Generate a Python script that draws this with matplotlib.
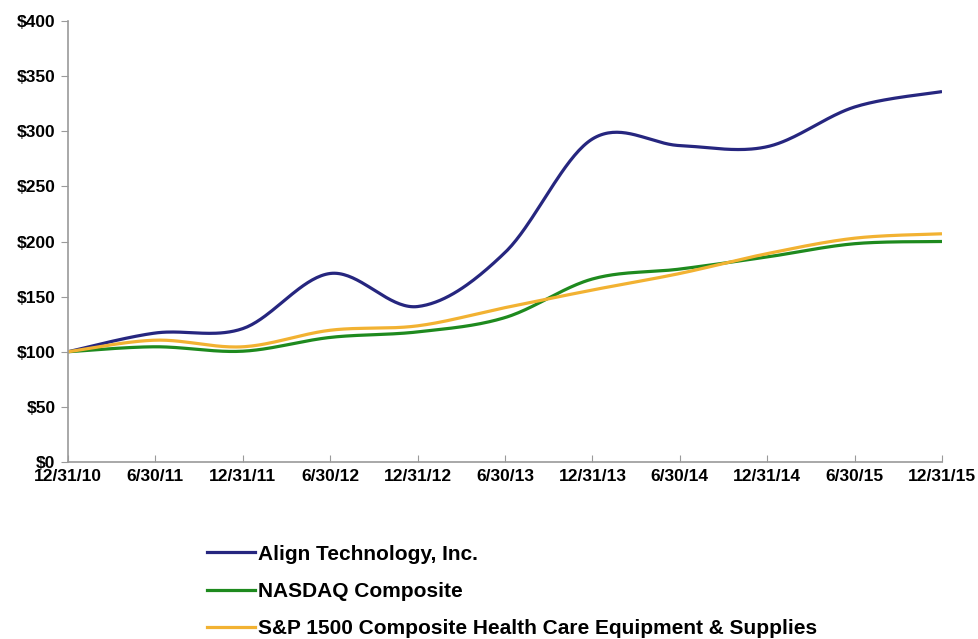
import numpy as np
import matplotlib.pyplot as plt
from matplotlib.lines import Line2D

# valori (base $100 al 12/31/10)
dates = ["12/31/10", "6/30/11", "12/31/11", "6/30/12", "12/31/12", "6/30/13",
         "12/31/13", "6/30/14", "12/31/14", "6/30/15", "12/31/15"]
align = [100, 117, 121, 171, 141, 190, 293, 287, 286, 322, 336]
nasdaq = [100, 104.5, 100.5, 113, 118, 131, 166, 175, 186, 198, 200]
sp1500_hc = [100, 110.5, 104.5, 119.5, 123.5, 140, 156, 171, 189, 203, 207]

series_names = ["Align Technology, Inc.", "NASDAQ Composite",
                "S&P 1500 Composite Health Care Equipment & Supplies"]
colors = ["#26267F", "#1E8A1E", "#F2B232"]
y_ticks = [0, 50, 100, 150, 200, 250, 300, 350, 400]


def smooth(y, n=40):
    # curva tipo "linea smussata" di Excel (Bezier con tangenti Catmull-Rom)
    y = np.asarray(y, dtype=float)
    x = np.arange(len(y), dtype=float)
    pts = np.column_stack([x, y])
    out = []
    t = np.linspace(0, 1, n)[:, None]
    for i in range(len(pts) - 1):
        p0 = pts[max(i - 1, 0)]
        p1 = pts[i]
        p2 = pts[i + 1]
        p3 = pts[min(i + 2, len(pts) - 1)]
        c1 = p1 + (p2 - p0) / 6
        c2 = p2 - (p3 - p1) / 6
        seg = ((1 - t) ** 3) * p1 + 3 * ((1 - t) ** 2) * t * c1 \
            + 3 * (1 - t) * t ** 2 * c2 + t ** 3 * p2
        out.append(seg if i == 0 else seg[1:])
    out = np.vstack(out)
    return out[:, 0], out[:, 1]


plt.rcParams['font.family'] = ['Liberation Sans', 'DejaVu Sans']
plt.rcParams['font.weight'] = 'bold'

fig = plt.figure(figsize=(9.79, 6.39), dpi=100)
ax = fig.add_axes([68 / 979, 1 - 462 / 639, (942 - 68) / 979, (462 - 21) / 639])

for vals, c in zip([align, nasdaq, sp1500_hc], colors):
    xs, ys = smooth(vals)
    ax.plot(xs, ys, color=c, linewidth=2.3, solid_capstyle='butt')

ax.set_xlim(0, len(dates) - 1)
ax.set_ylim(0, 400)
ax.set_yticks(y_ticks)
ax.set_yticklabels([f"${v}" for v in y_ticks])
ax.set_xticks(range(len(dates)))
ax.set_xticklabels(dates)

for s in ["top", "right"]:
    ax.spines[s].set_visible(False)
for s in ["left", "bottom"]:
    ax.spines[s].set_color("#9A9A9A")
    ax.spines[s].set_linewidth(1.2)
ax.tick_params(axis='y', direction='out', length=5, color="#9A9A9A", labelsize=12.5, pad=4)
ax.tick_params(axis='x', direction='in', length=5, color="#9A9A9A", labelsize=12.5, pad=5)

handles = [Line2D([0], [0], color=c, linewidth=2.3) for c in colors]
fig.legend(handles, series_names, loc='upper left',
           bbox_to_anchor=(188 / 979, 1 - 526 / 639), frameon=False,
           fontsize=15, handlelength=2.3, handletextpad=0.15, labelspacing=0.88)

fig.savefig("out.png", dpi=100)
